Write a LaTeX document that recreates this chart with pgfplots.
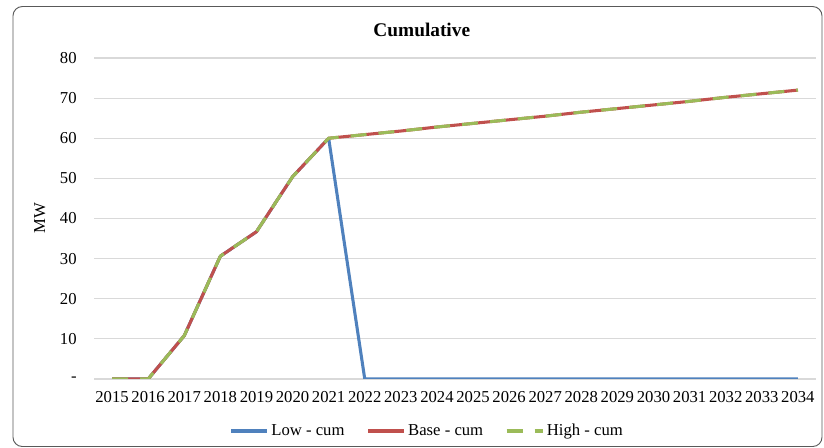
\documentclass[border=0pt]{standalone}
\usepackage{pgfplots}
\pgfplotsset{compat=1.18}
\usepackage{fontspec}
\setmainfont{Liberation Serif}

\definecolor{lowblue}{HTML}{4F81BD}
\definecolor{basered}{HTML}{C0504D}
\definecolor{highgreen}{HTML}{9BBB59}
\definecolor{gridgray}{HTML}{D9D9D9}

\begin{document}
\begin{tikzpicture}
\useasboundingbox (0pt,0pt) rectangle (618pt,336pt);
\draw[black!65, line width=0.7pt, rounded corners=7pt] (9.75pt,1.1pt) rectangle (616.5pt,331.1pt);
\begin{axis}[
  at={(70.5pt,51.75pt)}, anchor=south west,
  scale only axis,
  width=541.5pt, height=240.75pt,
  xmin=2014.5, xmax=2034.5,
  ymin=0, ymax=80,
  xtick={2015,...,2034},
  ytick={0,10,...,80},
  yticklabels={-,10,20,30,40,50,60,70,80},
  xticklabel style={/pgf/number format/1000 sep={}, yshift=-6pt},
  yticklabel style={xshift=-9.5pt},
  /pgf/number format/assume math mode=true,
  ticklabel style={font=\fontsize{12.5}{15}\selectfont},
  major tick length=0pt,
  axis line style={draw=none},
  ymajorgrids,
  grid style={gridgray, line width=0.9pt},
  ylabel={MW},
  ylabel style={at={(axis description cs:-0.075,0.5)}, anchor=center, font=\fontsize{12.5}{15}\selectfont},
  title={Cumulative},
  title style={at={(axis description cs:0.454,1.062)}, anchor=center, font=\fontsize{14.5}{17}\selectfont\bfseries},
  legend columns=3,
  legend style={at={(axis description cs:0.462,-0.162)}, anchor=center, draw=none,
    font=\fontsize{12.5}{15}\selectfont, /tikz/every even column/.append style={column sep=14.5pt}},
  legend image code/.code={\draw[#1] (0,0) -- (27pt,0);},
  every axis plot/.append style={line width=2.3pt, line join=round},
]
% Low scenario
\addplot[lowblue] coordinates {
  (2015,0) (2016,0) (2017,10.8) (2018,30.6) (2019,36.7) (2020,50.4) (2021,60)
  (2022,0) (2023,0) (2024,0) (2025,0) (2026,0) (2027,0) (2028,0) (2029,0)
  (2030,0) (2031,0) (2032,0) (2033,0) (2034,0)};
\addlegendentry{Low - cum}
% Base scenario
\addplot[basered] coordinates {
  (2015,0) (2016,0) (2017,10.8) (2018,30.6) (2019,36.7) (2020,50.4) (2021,60)
  (2022,60.9) (2023,61.8) (2024,62.8) (2025,63.7) (2026,64.6) (2027,65.5) (2028,66.5)
  (2029,67.4) (2030,68.3) (2031,69.2) (2032,70.2) (2033,71.1) (2034,72)};
\addlegendentry{Base - cum}
% High scenario
\addplot[highgreen, dash pattern=on 12pt off 9pt] coordinates {
  (2015,0) (2016,0) (2017,10.8) (2018,30.6) (2019,36.7) (2020,50.4) (2021,60)
  (2022,60.9) (2023,61.8) (2024,62.8) (2025,63.7) (2026,64.6) (2027,65.5) (2028,66.5)
  (2029,67.4) (2030,68.3) (2031,69.2) (2032,70.2) (2033,71.1) (2034,72)};
\addlegendentry{High - cum}
\end{axis}
\end{tikzpicture}
\end{document}
